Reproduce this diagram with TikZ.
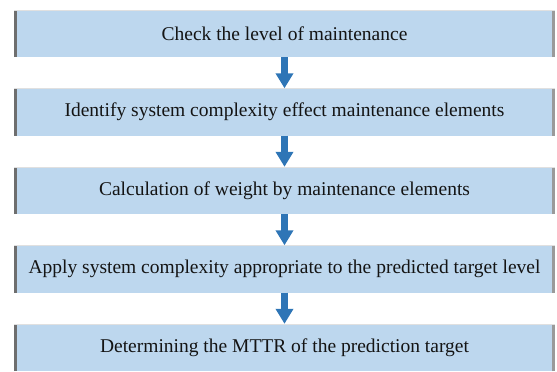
\documentclass[tikz,border=0pt]{standalone}
\usepackage{fontspec}
\setmainfont{Liberation Serif}
\usetikzlibrary{arrows.meta}
\definecolor{boxfill}{HTML}{BDD7EE}
\definecolor{edgeL}{HTML}{6E6E6E}
\definecolor{edgeR}{HTML}{9A9A9A}
\definecolor{flowblue}{HTML}{2E75B6}
\definecolor{txt}{HTML}{141414}
\tikzset{
  stepbox/.style={fill=boxfill, minimum width=541pt, minimum height=47pt,
    inner sep=0pt, text=txt, font=\rmfamily\fontsize{19.5}{22}\selectfont},
  flow/.style={draw=flowblue, line width=6.5pt,
    -{Triangle[width=17pt,length=15pt]}},
}
\newcommand{\sidebars}[1]{%
  \draw[edgeL, line width=3pt] ([xshift=1.5pt]#1.south west) -- ([xshift=1.5pt]#1.north west);
  \draw[edgeR, line width=3pt] ([xshift=-1.5pt]#1.south east) -- ([xshift=-1.5pt]#1.north east);
  \draw[black!12, line width=1pt] ([yshift=-0.5pt]#1.north west) -- ([yshift=-0.5pt]#1.north east);
}
\begin{document}
\begin{tikzpicture}[x=1pt,y=1pt]
  \useasboundingbox (0,0) rectangle (557,-372);
  \node[stepbox] (s1) at (284.5,-33.5) {Check the level of maintenance};
  \node[stepbox] (s2) at (284.5,-112) {Identify system complexity effect maintenance elements};
  \node[stepbox] (s3) at (284.5,-190.5) {Calculation of weight by maintenance elements};
  \node[stepbox] (s4) at (284.5,-269) {Apply system complexity appropriate to the predicted target level};
  \node[stepbox] (s5) at (284.5,-347.5) {Determining the MTTR of the prediction target};
  \foreach \n in {s1,s2,s3,s4,s5} {\sidebars{\n}}
  \draw[flow] (s1.south) -- (s2.north);
  \draw[flow] (s2.south) -- (s3.north);
  \draw[flow] (s3.south) -- (s4.north);
  \draw[flow] (s4.south) -- (s5.north);
\end{tikzpicture}
\end{document}
